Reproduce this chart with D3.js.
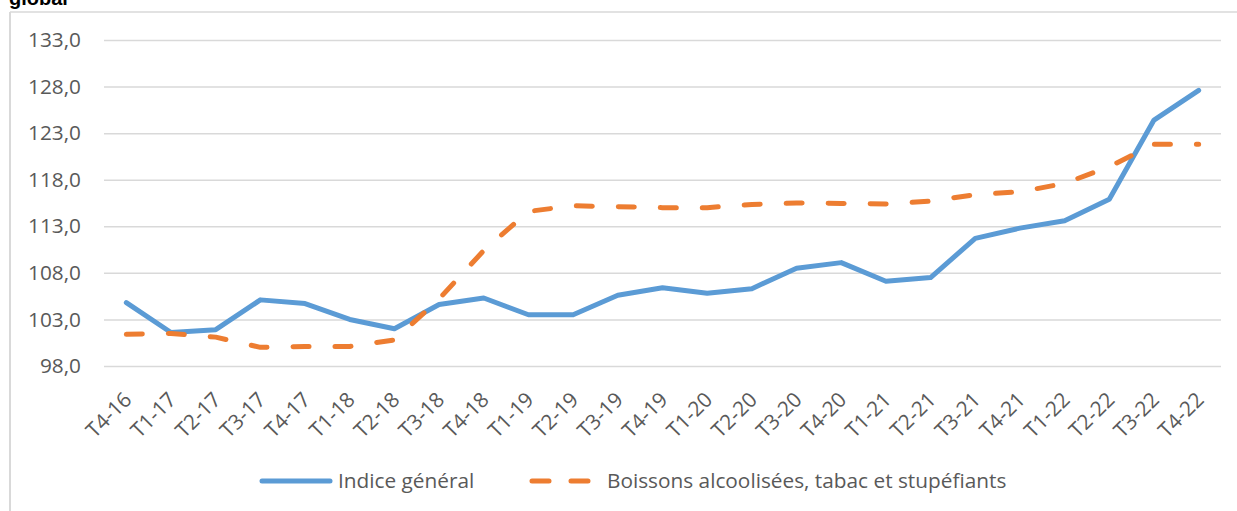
<!DOCTYPE html>
<html><head><meta charset="utf-8">
<script src="https://cdn.jsdelivr.net/npm/d3@7"></script>
<style>
html,body{margin:0;padding:0;background:#fff;}
svg{display:block;}
</style></head>
<body>
<svg id="chart" width="1237" height="511"></svg>
<script>
const categories = ["T4-16","T1-17","T2-17","T3-17","T4-17","T1-18","T2-18","T3-18","T4-18","T1-19","T2-19","T3-19","T4-19","T1-20","T2-20","T3-20","T4-20","T1-21","T2-21","T3-21","T4-21","T1-22","T2-22","T3-22","T4-22"];
const indiceGeneral = [104.8,101.6,101.9,105.1,104.7,103.0,102.0,104.6,105.3,103.5,103.5,105.6,106.4,105.8,106.3,108.5,109.1,107.1,107.5,111.7,112.8,113.6,115.9,124.4,127.6];
const boissons = [101.4,101.5,101.1,100.0,100.1,100.1,100.8,105.2,110.4,114.6,115.2,115.1,115.0,115.0,115.35,115.5,115.45,115.4,115.7,116.4,116.7,117.6,119.4,121.8,121.8];
const yTicks = [98,103,108,113,118,123,128,133];
const seriesNames = ["Indice général","Boissons alcoolisées, tabac et stupéfiants"];
const titleTail = "global";

const svg = d3.select("#chart");
const font = "'Open Sans', sans-serif";
const fs = 20.8;
const mLeft = 104, mRight = 1221, mTop = 40, mBottom = 366;

// frame
svg.append("line").attr("x1",10).attr("x2",1237).attr("y1",12).attr("y2",12).attr("stroke","#d9d9d9").attr("stroke-width",1.5);
svg.append("line").attr("x1",10).attr("x2",10).attr("y1",12).attr("y2",511).attr("stroke","#d9d9d9").attr("stroke-width",2);
svg.append("text").attr("x",9).attr("y",5).attr("font-family","'Liberation Sans', Arial, sans-serif").attr("font-weight","bold").attr("font-size",20).attr("fill","#000").text(titleTail);

const x = d3.scalePoint().domain(categories).range([mLeft,mRight]).padding(0.5);
const y = d3.scaleLinear().domain([98,133]).range([mBottom,mTop]);

// grid
const yAxis = d3.axisLeft(y).tickValues(yTicks).tickSize(-(mRight-mLeft)).tickPadding(23)
  .tickFormat(d => d3.format(".1f")(d).replace(".",","));
const gy = svg.append("g").attr("transform",`translate(${mLeft},0)`).call(yAxis);
gy.select(".domain").remove();
gy.selectAll(".tick line").attr("stroke","#d9d9d9").attr("stroke-width",1.5);
gy.selectAll(".tick text").attr("font-family",font).attr("font-size",fs).attr("fill","#595959");

// x labels
const xAxis = d3.axisBottom(x).tickSize(0);
const gx = svg.append("g").attr("transform",`translate(0,${mBottom})`).call(xAxis);
gx.select(".domain").remove();
gx.selectAll(".tick text")
  .attr("font-family",font).attr("font-size",fs).attr("fill","#595959")
  .attr("text-anchor","end").attr("dy",0).attr("y",0)
  .attr("transform","translate(6,35) rotate(-45)");

const line = d3.line().x((d,i)=>x(categories[i])).y(d=>y(d));

svg.append("path").datum(indiceGeneral).attr("d",line)
  .attr("fill","none").attr("stroke","#5b9bd5").attr("stroke-width",5)
  .attr("stroke-linejoin","round").attr("stroke-linecap","round");
svg.append("path").datum(boissons).attr("d",line)
  .attr("fill","none").attr("stroke","#ed7d31").attr("stroke-width",5)
  .attr("stroke-linejoin","round").attr("stroke-linecap","round")
  .attr("stroke-dasharray","16 26");

// legend
const ly = 481;
svg.append("line").attr("x1",262).attr("x2",330).attr("y1",ly).attr("y2",ly)
  .attr("stroke","#5b9bd5").attr("stroke-width",5).attr("stroke-linecap","round");
svg.append("text").attr("x",338).attr("y",ly).attr("dy","0.35em").attr("font-family",font).attr("font-size",fs).attr("fill","#595959").text(seriesNames[0]);
svg.append("line").attr("x1",532).attr("x2",593).attr("y1",ly).attr("y2",ly)
  .attr("stroke","#ed7d31").attr("stroke-width",5).attr("stroke-linecap","round")
  .attr("stroke-dasharray","17 22");
svg.append("text").attr("x",607).attr("y",ly).attr("dy","0.35em").attr("font-family",font).attr("font-size",fs).attr("fill","#595959").text(seriesNames[1]);
</script>
</body></html>
